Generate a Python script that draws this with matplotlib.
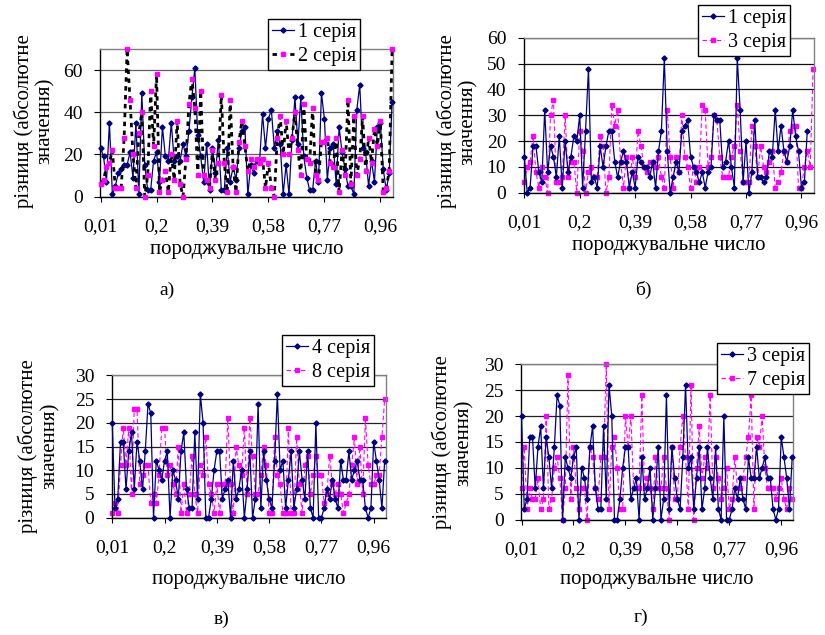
import matplotlib
matplotlib.use("Agg")
import matplotlib.pyplot as plt

plt.rcParams['font.family'] = ['Liberation Serif', 'DejaVu Serif']
plt.rcParams['font.size'] = 14

W, H = 825, 635

# --- data ---
tick_pos = [1, 20, 39, 58, 77, 96]
tick_labels = ['0,01', '0,2', '0,39', '0,58', '0,77', '0,96']

a_ser1 = [23, 19, 7, 35, 1, 5, 11, 13, 15, 15, 21, 9, 35, 1, 49, 15, 3, 3, 17, 21,
          7, 33, 19, 17, 35, 17, 19, 17, 25, 19, 31, 47, 61, 29, 19, 7, 25,
          3, 23, 11, 27, 3, 3, 23, 7, 14, 8, 23, 31, 33, 1, 15, 11, 17, 17, 39, 23,
          37, 41, 23, 31, 25, 1, 15, 1, 27, 47, 25, 47, 19, 9, 3, 3, 17, 7, 49, 37,
          8, 23, 25, 6, 33, 21, 13, 5, 5, 1, 41, 53, 23, 21, 5, 17, 7, 33, 35, 13,
          3, 11, 45]
a_ser2 = [6, 8, 14, 16, 22, 4, 4, 4, 28, 70, 46, 20, 4, 30, 40, 0, 10, 50, 24, 58,
          2, 8, 12, 2, 20, 8, 36, 6, 0, 18, 44, 56, 42, 10, 50, 10, 8, 4,
          22, 8, 16, 48, 16, 2, 46, 14, 2, 26, 36, 24, 12, 18, 14, 18, 16, 18, 4, 16,
          4, 0, 28, 38, 20, 36, 20, 28, 40, 22, 10, 44, 18, 16, 42, 10, 8, 26, 26, 28,
          16, 14, 28, 2, 22, 10, 46, 6, 38, 10, 18, 38, 12, 28, 16, 32, 24, 36, 2, 4,
          12, 70]

b_ser1 = [14, 0, 2, 18, 18, 8, 4, 32, 8, 18, 14, 6, 22, 2, 20, 8, 14, 22, 20, 30,
          2, 24, 48, 4, 6, 2, 18, 10, 18, 24, 24, 12, 6, 12,
          16, 12, 2, 8, 2, 14, 12, 10, 10, 6, 12, 2, 16, 24, 52, 16, 0, 6, 12, 8,
          24, 26, 28, 14, 10, 8, 4, 8, 2, 8, 10, 30, 28, 28, 10, 12, 20, 10, 2, 52,
          32, 4, 20, 0, 8, 28, 6, 6, 4, 6, 16, 14, 32, 16, 26, 16, 12, 18, 32, 22,
          16, 2, 4, 24]
b_ser3 = [4, 10, 12, 22, 8, 2, 10, 6, 0, 30, 36, 4, 4, 6, 30, 6, 12, 12, 0, 24,
          16, 0, 8, 10, 6, 6, 22, 18, 0, 6, 34, 26, 32, 12,
          2, 14, 2, 14, 6, 24, 18, 10, 8, 12, 12, 10, 14, 6, 2, 32, 14, 2, 14, 8,
          30, 14, 10, 2, 10, 4, 10, 34, 32, 10, 14, 30, 28, 14, 6, 6, 6, 14, 18, 34,
          16, 4, 4, 4, 26, 18, 6, 18, 10, 8, 12, 16, 2, 4, 8, 16, 12, 24, 26, 26,
          2, 2, 10, 16, 10, 48]

v_ser4 = [20, 2, 4, 16, 16, 6, 14, 18, 6, 16, 12, 6, 14, 24, 22, 0, 12, 10, 8, 12,
          14, 0, 10, 8, 4, 14, 18, 6, 2, 2, 18, 4, 26, 20, 0, 0, 4,
          10, 14, 14, 4, 6, 8, 0, 12, 4, 6, 10, 0, 6, 14, 0, 4, 24, 2, 14, 8,
          4, 2, 12, 26, 10, 12, 2, 8, 14, 2, 6, 14, 8, 4, 14, 2, 0, 20, 0, 0,
          2, 6, 4, 8, 4, 2, 12, 8, 8, 14, 8, 10, 12, 8, 8, 2, 0, 2, 16, 12,
          8, 2, 12]
v_ser8 = [1, 3, 1, 11, 19, 11, 19, 5, 23, 23, 7, 9, 11, 11, 3, 5, 3, 9, 19, 19,
          9, 11, 7, 5, 15, 1, 7, 1, 5, 13, 5, 1, 11, 9, 17, 7, 5,
          1, 7, 1, 7, 7, 21, 7, 1, 15, 11, 9, 19, 5, 21, 13, 5, 5, 9, 15, 11,
          1, 1, 17, 9, 7, 1, 1, 19, 1, 1, 17, 7, 1, 11, 13, 5, 9, 13, 9, 9,
          3, 5, 13, 7, 5, 7, 5, 1, 3, 5, 11, 17, 7, 15, 5, 21, 11, 7, 7, 9,
          9, 17, 25]

g_ser3 = list(v_ser4)  # same series as "4 серія" in panel в
g_ser7 = [6, 14, 2, 6, 4, 4, 8, 2, 4, 20, 2, 4, 10, 12, 8, 0, 6, 28, 4, 14,
          6, 2, 6, 6, 0, 14, 12, 6, 4, 12, 12, 30, 2, 14, 16, 10,
          2, 2, 20, 14, 20, 6, 6, 6, 24, 6, 8, 6, 2, 12, 6, 6, 12, 6, 0, 14,
          4, 4, 14, 20, 12, 2, 26, 0, 10, 18, 8, 12, 10, 24, 6, 12, 8, 4, 6, 10,
          2, 4, 12, 6, 6, 8, 12, 16, 24, 2, 16, 14, 20, 10, 6, 6, 6, 4, 6, 8,
          4, 2, 6, 4]

NAVY = '#000080'
MAG = '#FF00FF'


def px_axes(fig, l, r, t, b):
    return fig.add_axes([l / W, 1 - b / H, (r - l) / W, (b - t) / H])


def style(ax, box, ylim, ystep, ylab_xy, xlab_base, grid_col):
    l, r, t, b = box
    ax.set_xlim(0.8, 100.3)
    ax.set_ylim(*ylim)
    ax.set_yticks(range(ylim[0], ylim[1] + 1, ystep))
    ax.set_xticks(tick_pos)
    ax.set_xticklabels(tick_labels)
    ax.tick_params(axis='x', direction='out', length=3.6, width=0.8, pad=12,
                   labelsize=14)
    ax.tick_params(axis='y', direction='out', length=4.5, width=0.8, pad=8,
                   labelsize=14)
    ax.yaxis.grid(True, color=grid_col, lw=0.9)
    ax.set_axisbelow(True)
    for s in ('top', 'right'):
        ax.spines[s].set_color('#808080')
        ax.spines[s].set_linewidth(1.0)
    for s in ('left', 'bottom'):
        ax.spines[s].set_color('black')
        ax.spines[s].set_linewidth(1.0)
    ax.set_ylabel('різниця (абсолютне\nзначення)', ha='center', va='center',
                  multialignment='center', linespacing=1.15, fontsize=15)
    ax.yaxis.set_label_coords((ylab_xy[0] - l) / (r - l), (b - ylab_xy[1]) / (b - t))
    ax.set_xlabel('породжувальне число', va='baseline', fontsize=15)
    ax.xaxis.set_label_coords(0.5, (b - xlab_base) / (b - t))


def draw(ax, s1, s2, labels, second_black=False):
    x1 = range(1, len(s1) + 1)
    x2 = range(1, len(s2) + 1)
    ax.plot(x1, s1, color=NAVY, lw=0.9, marker='D', ms=2.6, mfc=NAVY, mec=NAVY,
            label=labels[0], clip_on=False, zorder=3)
    if second_black:
        ax.plot(x2, s2, color='black', lw=2.0, ls=(0, (1.6, 1.6)), marker='s', ms=2.6,
                mfc=MAG, mec=MAG, label=labels[1], clip_on=False, zorder=4)
    else:
        ax.plot(x2, s2, color=MAG, lw=0.8, ls=(0, (4, 2.5)), marker='s', ms=2.4,
                mfc=MAG, mec=MAG, label=labels[1], clip_on=False, zorder=2)


def legend(ax, fig, x, y):
    leg = ax.legend(loc='upper left', bbox_to_anchor=(x / W, 1 - y / H),
                    bbox_transform=fig.transFigure, fontsize=14.5, frameon=True,
                    fancybox=False, framealpha=1, edgecolor='black',
                    borderpad=0.2, labelspacing=0.25, handlelength=1.1,
                    handletextpad=0.2, borderaxespad=0)
    leg.get_frame().set_linewidth(1.0)
    leg.set_zorder(10)


fig = plt.figure(figsize=(W / 100, H / 100), dpi=100)

box_a = (100, 393, 49, 196.5)
ax_a = px_axes(fig, *box_a)
draw(ax_a, a_ser1, a_ser2, ['1 серія', '2 серія'], second_black=True)
style(ax_a, box_a, (0, 70), 20, (34, 121), 254, '#606060')
legend(ax_a, fig, 268, 19)

box_b = (523.7, 814, 37.7, 192.7)
ax_b = px_axes(fig, *box_b)
draw(ax_b, b_ser1, b_ser3, ['1 серія', '3 серія'])
style(ax_b, box_b, (0, 60), 10, (457, 121.5), 250, '#101010')
legend(ax_b, fig, 698, 5)

box_v = (111.7, 385.5, 375.3, 517.7)
ax_v = px_axes(fig, *box_v)
draw(ax_v, v_ser4, v_ser8, ['4 серія', '8 серія'])
style(ax_v, box_v, (0, 30), 5, (38.5, 446), 584, '#202020')
legend(ax_v, fig, 282, 335)

box_g = (521, 793, 364.3, 519.5)
ax_g = px_axes(fig, *box_g)
draw(ax_g, g_ser3, g_ser7, ['3 серія', '7 серія'])
style(ax_g, box_g, (0, 30), 5, (452.5, 442.5), 584, '#202020')
legend(ax_g, fig, 717, 343)

# sub-figure captions
for cx, cy, txt in [(167, 290, 'а)'), (643, 290, 'б)'), (222, 619, 'в)'), (641, 617, 'г)')]:
    fig.text(cx / W, 1 - cy / H, txt, ha='center', va='center', fontsize=14)

fig.savefig('out.png', dpi=100)
